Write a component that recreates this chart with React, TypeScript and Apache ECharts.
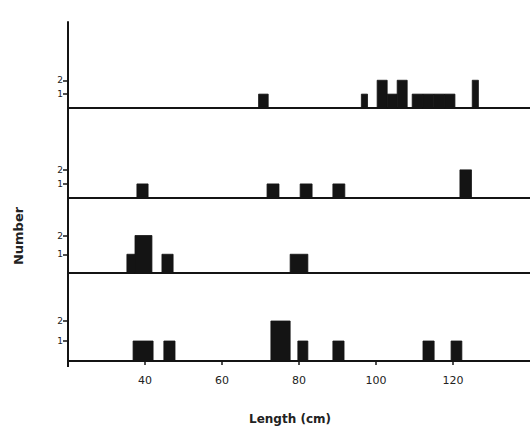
import React, { useEffect, useRef } from "react";
import * as echarts from "echarts";

// Length bins [from cm, to cm, number of fish] (top to bottom)
const panel1Bins: number[][] = [
  [69.5, 72, 1],
  [96.2, 97.8, 1],
  [100.3, 102.9, 2],
  [102.9, 105.5, 1],
  [105.5, 108.1, 2],
  [109.4, 112.2, 1],
  [112.2, 115, 1],
  [115, 117.8, 1],
  [117.8, 120.5, 1],
  [125, 126.6, 2],
];
const panel2Bins: number[][] = [
  [37.9, 40.8, 1],
  [71.7, 74.8, 1],
  [80.3, 83.4, 1],
  [88.8, 91.9, 1],
  [121.8, 124.8, 2],
];
const panel3Bins: number[][] = [
  [35.3, 37.4, 1],
  [37.4, 41.8, 2],
  [44.4, 47.3, 1],
  [77.7, 82.3, 1],
];
const panel4Bins: number[][] = [
  [36.9, 42.1, 1],
  [44.9, 47.8, 1],
  [72.7, 77.7, 2],
  [79.7, 82.3, 1],
  [88.8, 91.7, 1],
  [112.2, 115.1, 1],
  [119.5, 122.3, 1],
];
const xTickLabels = [40, 60, 80, 100, 120];
const yTickLabels = [1, 2];
const xTitle = "Length (cm)";
const yTitle = "Number";

const INK = "#141414";

export default function App() {
  const ref = useRef<HTMLDivElement>(null);
  useEffect(() => {
    if (!ref.current) return;
    const chart = echarts.init(ref.current, null, { renderer: "svg" });
    const panels = [panel1Bins, panel2Bins, panel3Bins, panel4Bins];
    const grids = [
      { top: 22, height: 86 },
      { top: 108, height: 90 },
      { top: 198, height: 75 },
      { top: 273, height: 88 },
    ];
    const yMax = [6.2, 6.4, 4, 4.4];
    const renderItem = (params: any, api: any) => {
      const p0 = api.coord([api.value(0), api.value(2)]);
      const p1 = api.coord([api.value(1), 0]);
      return {
        type: "rect",
        shape: { x: p0[0], y: p0[1], width: p1[0] - p0[0], height: p1[1] - p0[1] },
        style: { fill: INK, stroke: INK, lineWidth: 0.8 },
      };
    };
    chart.setOption({
      animation: false,
      backgroundColor: "#ffffff",
      grid: grids.map((g) => ({ left: 68, right: 0, top: g.top, height: g.height })),
      xAxis: grids.map((_, i) => ({
        type: "value",
        gridIndex: i,
        min: 20,
        max: 140,
        interval: 20,
        splitLine: { show: false },
        axisLine: { show: true, lineStyle: { color: INK, width: 2 } },
        axisTick:
          i === 3
            ? { show: true, customValues: xTickLabels, length: 4, lineStyle: { color: INK, width: 1.5 } }
            : { show: false },
        axisLabel:
          i === 3
            ? {
                show: true,
                customValues: xTickLabels,
                color: "#222",
                fontSize: 11,
                margin: 14,
                fontFamily: "DejaVu Sans",
              }
            : { show: false },
      })),
      yAxis: grids.map((_, i) => ({
        type: "value",
        gridIndex: i,
        min: 0,
        max: yMax[i],
        splitLine: { show: false },
        axisLine: { show: true, lineStyle: { color: INK, width: 2 } },
        axisTick: { show: true, customValues: yTickLabels, length: 5, lineStyle: { color: INK, width: 1.5 } },
        axisLabel: {
          show: true,
          customValues: yTickLabels,
          color: "#222",
          fontSize: 9,
          margin: 5,
          fontFamily: "DejaVu Sans",
        },
      })),
      series: panels.map((bins, i) => ({
        type: "custom",
        xAxisIndex: i,
        yAxisIndex: i,
        data: bins,
        encode: { x: [0, 1], y: 2 },
        renderItem,
      })),
      graphic: [
        {
          type: "line",
          shape: { x1: 68, y1: 360, x2: 68, y2: 367 },
          style: { stroke: INK, lineWidth: 2 },
        },
        {
          type: "text",
          x: 18,
          y: 236,
          rotation: Math.PI / 2,
          style: {
            text: yTitle,
            fill: "#222",
            font: "bold 13px 'DejaVu Sans'",
            textAlign: "center",
            textVerticalAlign: "middle",
          },
        },
        {
          type: "text",
          x: 290,
          y: 419,
          style: {
            text: xTitle,
            fill: "#222",
            font: "bold 12px 'DejaVu Sans'",
            textAlign: "center",
            textVerticalAlign: "middle",
          },
        },
      ],
    });
    return () => chart.dispose();
  }, []);
  return (
    <div
      ref={ref}
      style={{ position: "fixed", left: 0, top: 0, width: 530, height: 429 }}
    />
  );
}
